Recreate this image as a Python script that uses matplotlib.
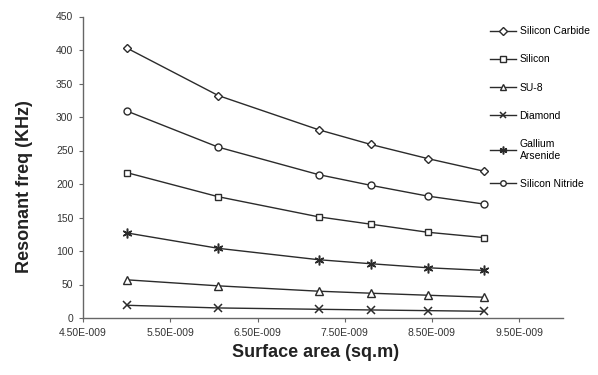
import matplotlib
matplotlib.use("Agg")
import matplotlib.pyplot as plt

plt.rcParams["font.family"] = ["Liberation Sans", "DejaVu Sans"]

# surface area (sq.m) of the six samples
area = [5.0e-9, 6.05e-9, 7.2e-9, 7.8e-9, 8.45e-9, 9.1e-9]

# resonant frequency (KHz) per material
silicon_carbide = [403, 332, 281, 259, 238, 219]
silicon = [217, 181, 151, 140, 128, 120]
su8 = [57, 48, 40, 37, 34, 31]
diamond = [19, 15, 13, 12, 11, 10]
gallium_arsenide = [127, 104, 87, 81, 75, 71]
silicon_nitride = [309, 255, 214, 198, 182, 170]

x_ticks = [4.5e-9, 5.5e-9, 6.5e-9, 7.5e-9, 8.5e-9, 9.5e-9]
x_tick_labels = ["4.50E-009", "5.50E-009", "6.50E-009", "7.50E-009", "8.50E-009", "9.50E-009"]
y_ticks = [0, 50, 100, 150, 200, 250, 300, 350, 400, 450]

series = [
    ("Silicon Carbide", silicon_carbide, dict(marker="D", ms=4.5, mfc="white")),
    ("Silicon", silicon, dict(marker="s", ms=5, mfc="white")),
    ("SU-8", su8, dict(marker="^", ms=5.5, mfc="white")),
    ("Diamond", diamond, dict(marker="x", ms=6, mew=1.1)),
    ("Gallium\nArsenide", gallium_arsenide, dict(marker=(6, 2, 0), ms=7, mew=1.1)),
    ("Silicon Nitride", silicon_nitride, dict(marker="o", ms=5, mfc="white")),
]

fig = plt.figure(figsize=(5.98, 3.75), dpi=100)
ax = fig.add_axes([0.139, 0.152, 0.802, 0.804])

line_col = "#2b2b2b"
for name, vals, style in series:
    ax.plot(area, vals, color=line_col, lw=1.0, mec=line_col, label=name, **style)

ax.set_xlim(4.5e-9, 1.0e-8)
ax.set_ylim(0, 450)
ax.set_xticks(x_ticks)
ax.set_xticklabels(x_tick_labels)
ax.set_yticks(y_ticks)

for side in ["top", "right"]:
    ax.spines[side].set_visible(False)
for side in ["left", "bottom"]:
    ax.spines[side].set_color("#666666")
    ax.spines[side].set_linewidth(1.0)
ax.tick_params(axis="both", direction="out", length=3, width=0.8, color="#666666",
               labelsize=7.5, labelcolor="#333333", pad=4)

ax.set_xlabel("Surface area (sq.m)", fontsize=13, fontweight="bold", color="#222222")
ax.set_ylabel("Resonant freq (KHz)", fontsize=13, fontweight="bold", color="#222222")
ax.xaxis.set_label_coords(0.485, -0.085)
ax.yaxis.set_label_coords(-0.105, 0.435)

fig.legend(loc="upper left", bbox_to_anchor=(0.82, 0.93), frameon=False,
           fontsize=7.5, handlelength=2.5, handletextpad=0.3, labelspacing=1.75,
           borderaxespad=0, borderpad=0, markerscale=0.8)

fig.savefig("out.png", dpi=100)
